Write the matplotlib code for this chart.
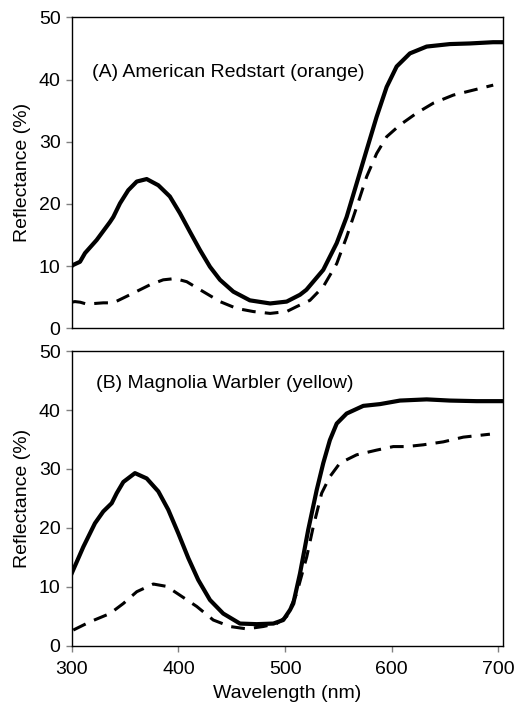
import numpy as np
import matplotlib.pyplot as plt

plt.rcParams['font.family'] = ['Liberation Sans', 'DejaVu Sans']

# (A) American Redstart - solid curve
wl_a_solid = [300, 301.5, 307.8, 312.5, 323.4, 335.9, 339, 345.3, 353, 361, 370.3, 381.2, 392,
              401.5, 410.9, 420.2, 429.6, 439, 451.5, 467, 486, 501.5, 514, 520, 535.8, 548.4,
              557.7, 567.1, 576.5, 585.8, 595.2, 604.6, 617, 632.7, 654.5, 673.3, 695, 704]
ref_a_solid = [10.0, 10.2, 10.7, 12.1, 14.2, 17.1, 17.9, 20.1, 22.2, 23.6, 24.0, 23.0, 21.2,
               18.5, 15.5, 12.6, 9.9, 7.8, 5.9, 4.5, 4.0, 4.3, 5.4, 6.2, 9.4, 13.7,
               17.9, 23.3, 28.7, 34.0, 38.8, 42.1, 44.2, 45.3, 45.7, 45.8, 46.0, 46.0]

# (A) American Redstart - dashed curve
wl_a_dash = [300, 303, 308, 314, 329.6, 339, 354.6, 373.4, 385.8, 396.8, 407.8, 423.3, 439,
             454.6, 470.2, 486, 501.5, 510.9, 523.3, 535.8, 548.4, 557.7, 567.1, 576.5,
             585.8, 595.2, 607.7, 623.3, 638.9, 657.7, 676.4, 695.1]
ref_a_dash = [4.2, 4.3, 4.2, 3.9, 4.1, 4.1, 5.4, 7.0, 7.8, 8.0, 7.5, 5.9, 4.3,
              3.2, 2.7, 2.4, 2.7, 3.5, 4.5, 6.7, 10.4, 14.7, 19.5, 24.4,
              28.1, 30.8, 32.7, 34.6, 36.2, 37.5, 38.3, 39.1]

# (B) Magnolia Warbler - solid curve
wl_b_solid = [300, 310.9, 321.8, 329.6, 337.5, 342.2, 348.4, 359.3, 370.3, 381.2, 390.5, 399.9,
              409.3, 418.6, 429.6, 442, 457.7, 473.4, 489, 498.3, 504.6, 507.7, 514, 521.7,
              529.6, 535.8, 542, 548.4, 557.7, 573.3, 589, 607.7, 632.7, 654.5, 679.5, 704]
ref_b_solid = [12.3, 16.8, 20.8, 22.8, 24.2, 25.9, 27.8, 29.3, 28.4, 26.2, 23.1, 19.1,
               14.9, 11.2, 7.8, 5.5, 3.8, 3.7, 3.8, 4.4, 6.1, 7.2, 12.3, 19.7,
               26.4, 31.0, 34.9, 37.7, 39.4, 40.7, 41.0, 41.6, 41.8, 41.6, 41.5, 41.5]

# (B) Magnolia Warbler - dashed curve
wl_b_dash = [301.5, 317.2, 335.9, 348.4, 361, 376.5, 389, 401.5, 417.2, 432.7, 448.4, 464,
             479.6, 492.1, 501.5, 510.9, 520.3, 526.4, 534.3, 542, 551.4, 567, 585.8,
             601.4, 614, 629.5, 648.3, 667, 692]
ref_b_dash = [2.7, 4.1, 5.5, 7.2, 9.2, 10.5, 10.1, 8.6, 6.7, 4.4, 3.3, 2.9,
              3.3, 3.8, 5.0, 8.9, 15.1, 20.2, 25.9, 28.7, 31.0, 32.4, 33.2,
              33.8, 33.8, 34.1, 34.6, 35.4, 35.9]

fig = plt.figure(figsize=(5.18, 7.13), dpi=100)
ax1 = fig.add_axes([0.1384, 0.5395, 0.8321, 0.4362])
ax2 = fig.add_axes([0.1384, 0.094, 0.8321, 0.4137])

panels = [
    (ax1, wl_a_solid, ref_a_solid, wl_a_dash, ref_a_dash,
     '(A) American Redstart (orange)', 319, 41.2),
    (ax2, wl_b_solid, ref_b_solid, wl_b_dash, ref_b_dash,
     '(B) Magnolia Warbler (yellow)', 323, 44.5),
]

for ax, xs, ys, xd, yd, label, tx, ty in panels:
    ax.plot(xs, ys, color='black', lw=3.0, solid_joinstyle='round')
    ax.plot(xd, yd, color='black', lw=2.2, dashes=(4.5, 3.0), dash_joinstyle='round')
    ax.set_xlim(300, 704)
    ax.set_ylim(0, 50)
    ax.set_yticks([0, 10, 20, 30, 40, 50])
    ax.set_ylabel('Reflectance (%)', fontsize=14)
    ax.yaxis.set_label_coords(-0.095, 0.5)
    ax.text(tx, ty, label, fontsize=14, va='center', ha='left')
    for sp in ax.spines.values():
        sp.set_linewidth(1.0)
        sp.set_color('black')
    ax.tick_params(axis='both', direction='out', length=4.5, width=1.0,
                   color='#808080', labelsize=14)

ax1.set_xticks([])
ax2.set_xticks([300, 400, 500, 600, 700])
ax2.tick_params(axis='x', pad=6)
ax2.set_xlabel('Wavelength (nm)', fontsize=14, labelpad=5)

fig.savefig('out.png', dpi=100)
